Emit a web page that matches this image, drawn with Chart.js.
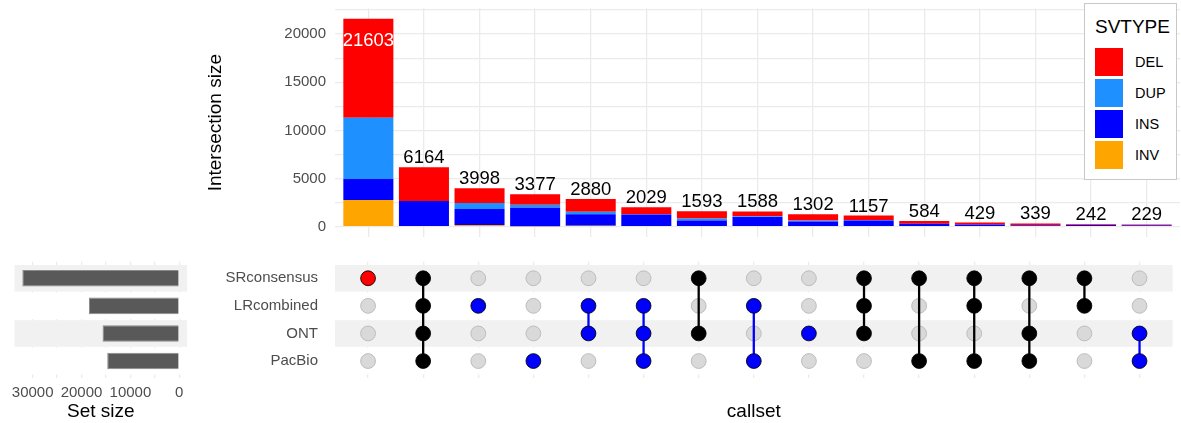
<!DOCTYPE html>
<html>
<head>
<meta charset="utf-8">
<script src="https://cdn.jsdelivr.net/npm/chart.js@4.4.1/dist/chart.umd.min.js"></script>
<style>
  html, body { margin: 0; padding: 0; background: #ffffff; }
  body { width: 1181px; height: 423px; position: relative; overflow: hidden;
         font-family: "Liberation Sans", Arial, Helvetica, sans-serif; }
  canvas { position: absolute; }
  #top { left: 190px; top: 0px; }
  #matrix { left: 190px; top: 250px; }
  #sets { left: 0px; top: 250px; }
  #legend { position: absolute; left: 1084px; top: 3px; width: 93px; height: 177px;
            box-sizing: border-box; border: 1px solid #c9c9c9; background: #ffffff; }
  #legend .ttl { position: absolute; left: 10px; top: 12px; font-size: 19px; line-height: 22px; color: #000; }
  #legend .key { position: absolute; left: 10px; width: 28px; height: 28px; }
  #legend .lab { position: absolute; left: 50px; font-size: 14.5px; line-height: 28px; color: #000; }
</style>
</head>
<body>
<canvas id="top" width="991" height="240"></canvas>
<canvas id="matrix" width="991" height="173"></canvas>
<canvas id="sets" width="190" height="173"></canvas>
<div id="legend"></div>
<script>
// ---------------- data ----------------
const intersectionNames = [
  'SRconsensus', 'SRconsensus&LRcombined&ONT&PacBio', 'LRcombined', 'PacBio',
  'LRcombined&ONT', 'LRcombined&ONT&PacBio', 'SRconsensus&ONT', 'LRcombined&PacBio',
  'ONT', 'SRconsensus&LRcombined&ONT', 'SRconsensus&PacBio', 'SRconsensus&LRcombined&PacBio',
  'SRconsensus&ONT&PacBio', 'SRconsensus&LRcombined', 'ONT&PacBio'
];
const totals = [21603, 6164, 3998, 3377, 2880, 2029, 1593, 1588, 1302, 1157, 584, 429, 339, 242, 229];

const svTypes = ['DEL', 'DUP', 'INS', 'INV'];
const delValues = [10283, 3495, 1537, 1090, 1322, 740, 740, 490, 650, 450, 270, 208, 190, 70, 70];
const dupValues = [6366, 0, 623, 311, 270, 20, 210, 90, 110, 60, 0, 0, 0, 0, 0];
const insValues = [2181, 2669, 1661, 1926, 1184, 1269, 643, 1008, 542, 647, 314, 221, 149, 172, 159];
const invValues = [2773, 0, 177, 50, 104, 0, 0, 0, 0, 0, 0, 0, 0, 0, 0];

const setNames = ['SRconsensus', 'LRcombined', 'ONT', 'PacBio'];
const setSizes = [32111, 18487, 15693, 14739];
const membership = {
  SRconsensus: [1,1,0,0,0,0,1,0,0,1,1,1,1,1,0],
  LRcombined:  [0,1,1,0,1,1,0,1,0,1,0,1,0,1,0],
  ONT:         [0,1,0,0,1,1,1,0,1,1,0,0,1,0,1],
  PacBio:      [0,1,0,1,0,1,0,1,0,0,1,1,1,0,1]
};
const intersectionTickStep = 2500;
const intersectionLabelStep = 5000;
const setSizeTickStep = 5000;
const setSizeLabelStep = 10000;

// ---------------- styles ----------------
const FONT = '"Liberation Sans", Arial, Helvetica, sans-serif';
const typeColors = { DEL: '#ff0000', DUP: '#1e90ff', INS: '#0000ff', INV: '#ffa500' };
const typeValues = { DEL: delValues, DUP: dupValues, INS: insValues, INV: invValues };
const GRID = '#ebebeb';
const TICK = '#4d4d4d';
Chart.defaults.font.family = FONT;

// remove Chart.js' automatic label overhang padding so chart areas are exact
function noPad(s) { s.paddingTop = 0; s.paddingBottom = 0; s.paddingLeft = 0; s.paddingRight = 0; }

// ---------------- legend (html text) ----------------
(function () {
  const lg = document.getElementById('legend');
  const t = document.createElement('div'); t.className = 'ttl'; t.textContent = 'SVTYPE'; lg.appendChild(t);
  svTypes.forEach((tp, i) => {
    const k = document.createElement('div'); k.className = 'key';
    k.style.top = (44 + i * 31) + 'px'; k.style.background = typeColors[tp]; lg.appendChild(k);
    const l = document.createElement('div'); l.className = 'lab';
    l.style.top = (44 + i * 31) + 'px'; l.textContent = tp; lg.appendChild(l);
  });
})();

// ---------------- top: intersection size ----------------
const yMax = Math.max(...totals) * 1.05;
const yMin = -Math.max(...totals) * 0.05;

const valueLabels = {
  id: 'valueLabels',
  afterDatasetsDraw(chart) {
    const { ctx, chartArea, scales: { x, y } } = chart;
    ctx.save();
    ctx.font = '18.5px ' + FONT;
    ctx.textAlign = 'center';
    ctx.textBaseline = 'alphabetic';
    totals.forEach((t, i) => {
      const px = x.getPixelForValue(i + 1);
      const py = y.getPixelForValue(t);
      if (py - 18 < chartArea.top) {
        ctx.fillStyle = '#ffffff';
        ctx.fillText(String(t), px, py + 27.3);
      } else {
        ctx.fillStyle = '#000000';
        ctx.fillText(String(t), px, py - 4);
      }
    });
    ctx.restore();
  }
};

const stackOrder = ['INV', 'INS', 'DUP', 'DEL'];
new Chart(document.getElementById('top'), {
  type: 'bar',
  data: {
    datasets: stackOrder.map(tp => ({
      label: tp,
      data: typeValues[tp].map((v, i) => ({ x: i + 1, y: v })),
      backgroundColor: typeColors[tp],
      borderWidth: 0,
      categoryPercentage: 1,
      barPercentage: 0.9,
      stack: 's'
    }))
  },
  options: {
    responsive: false, animation: false, devicePixelRatio: 1,
    layout: { padding: { top: 8.3, right: 1, left: 0, bottom: 0 } },
    plugins: { legend: { display: false }, tooltip: { enabled: false } },
    scales: {
      x: {
        type: 'linear', stacked: true, min: 0.4, max: intersectionNames.length + 0.6, offset: false,
        grid: { color: GRID, lineWidth: 1.3, drawTicks: false, offset: false },
        border: { display: false },
        ticks: { display: false },
        afterBuildTicks: s => { s.ticks = intersectionNames.map((n, i) => ({ value: i + 1 })); },
        afterFit: s => { s.height = 2.9; noPad(s); }
      },
      y: {
        stacked: true, min: yMin, max: yMax,
        grid: { color: GRID, lineWidth: 1.3, drawTicks: false },
        border: { display: false },
        ticks: {
          padding: 9, color: TICK, font: { size: 15 }, autoSkip: false,
          callback: v => (v % intersectionLabelStep === 0 ? String(v) : '')
        },
        afterBuildTicks: s => {
          const t = [];
          for (let v = 0; v <= yMax; v += intersectionTickStep) t.push({ value: v });
          s.ticks = t;
        },
        afterFit: s => { s.width = 145; noPad(s); },
        title: { display: true, text: 'Intersection size', color: '#000', font: { size: 19 }, padding: { top: 14, bottom: 0 } }
      }
    }
  },
  plugins: [valueLabels]
});

// ---------------- stripes plugin ----------------
const stripes = {
  id: 'stripes',
  beforeDatasetsDraw(chart) {
    const { ctx, chartArea, scales: { y } } = chart;
    const h = Math.abs(y.getPixelForValue(1) - y.getPixelForValue(0));
    ctx.save();
    setNames.forEach((s, i) => {
      const c = y.getPixelForValue(i);
      ctx.fillStyle = i % 2 === 0 ? '#f1f1f1' : '#ffffff';
      ctx.fillRect(chartArea.left, c - h / 2 + 0.5, chartArea.right - chartArea.left, h - 1);
    });
    ctx.restore();
  }
};

// ---------------- matrix ----------------
const activePts = [], activeCols = [], inactivePts = [], lineSets = [];
intersectionNames.forEach((n, c) => {
  const rows = setNames.map((s, r) => membership[s][c] ? r : -1).filter(r => r >= 0);
  const onlySR = rows.length === 1 && rows[0] === 0;
  const hasSR = rows.includes(0);
  const col = onlySR ? '#ff0000' : (hasSR ? '#000000' : '#0000ff');
  setNames.forEach((s, r) => {
    if (membership[s][c]) { activePts.push({ x: c + 1, y: r }); activeCols.push(col); }
    else inactivePts.push({ x: c + 1, y: r });
  });
  if (rows.length > 1) {
    lineSets.push({
      data: [{ x: c + 1, y: Math.min(...rows) }, { x: c + 1, y: Math.max(...rows) }],
      showLine: true, borderColor: col, borderWidth: 2.3, pointRadius: 0, order: 5
    });
  }
});

new Chart(document.getElementById('matrix'), {
  type: 'scatter',
  data: {
    datasets: [
      { data: activePts, pointBackgroundColor: activeCols, pointBorderColor: 'rgba(0,0,0,0.85)',
        pointBorderWidth: 1, pointRadius: 7.4, order: 0 },
      ...lineSets,
      { data: inactivePts, pointBackgroundColor: '#d9d9d9', pointBorderColor: '#bdbdbd',
        pointBorderWidth: 1, pointRadius: 7.4, order: 10 }
    ]
  },
  options: {
    responsive: false, animation: false, devicePixelRatio: 1,
    layout: { padding: { top: 11.7, right: 1, left: 0, bottom: 0 } },
    plugins: { legend: { display: false }, tooltip: { enabled: false } },
    scales: {
      x: {
        type: 'linear', min: 0.4, max: intersectionNames.length + 0.6,
        grid: { color: GRID, lineWidth: 1.3, drawTicks: false },
        border: { display: false },
        ticks: { display: false },
        afterBuildTicks: s => { s.ticks = intersectionNames.map((n, i) => ({ value: i + 1 })); },
        afterFit: s => { s.height = 45.4; noPad(s); },
        title: { display: true, text: 'callset', color: '#000', font: { size: 19 }, padding: { top: 0, bottom: 0 } }
      },
      y: {
        type: 'linear', reverse: true, min: -0.6, max: setNames.length - 0.4,
        grid: { display: false },
        border: { display: false },
        ticks: { padding: 9, color: TICK, font: { size: 15 }, autoSkip: false,
                 callback: v => setNames[v] || '' },
        afterBuildTicks: s => { s.ticks = setNames.map((n, i) => ({ value: i })); },
        afterFit: s => { s.width = 145; noPad(s); }
      }
    }
  },
  plugins: [stripes]
});

// ---------------- set size ----------------
const setMax = Math.max(...setSizes);
new Chart(document.getElementById('sets'), {
  type: 'bar',
  data: {
    datasets: [{
      data: setSizes.map((v, i) => ({ x: v, y: i })),
      backgroundColor: '#595959', borderColor: '#8a8a8a', borderWidth: 1,
      barPercentage: 0.6, categoryPercentage: 1
    }]
  },
  options: {
    indexAxis: 'y',
    responsive: false, animation: false, devicePixelRatio: 1,
    layout: { padding: { top: 11.7, right: 2.9, left: 14.5, bottom: 0 } },
    plugins: { legend: { display: false }, tooltip: { enabled: false } },
    scales: {
      x: {
        type: 'linear', reverse: true, min: -setMax * 0.05, max: setMax * 1.05,
        grid: { color: GRID, lineWidth: 1.3, drawTicks: false },
        border: { display: false },
        ticks: { padding: 6, color: TICK, font: { size: 15 }, autoSkip: false, maxRotation: 0,
                 callback: v => (v % setSizeLabelStep === 0 ? String(v) : '') },
        afterBuildTicks: s => {
          const t = [];
          for (let v = 0; v <= setMax; v += setSizeTickStep) t.push({ value: v });
          s.ticks = t;
        },
        afterFit: s => { s.height = 45.4; noPad(s); },
        title: { display: true, text: 'Set size', color: '#000', font: { size: 19 }, padding: { top: 0, bottom: 0 } }
      },
      y: {
        type: 'linear', reverse: true, min: -0.6, max: setNames.length - 0.4,
        offset: false, display: false, grid: { offset: false },
        afterBuildTicks: s => { s.ticks = setNames.map((n, i) => ({ value: i })); },
        afterFit: s => { noPad(s); }
      }
    }
  },
  plugins: [stripes]
});
</script>
</body>
</html>
